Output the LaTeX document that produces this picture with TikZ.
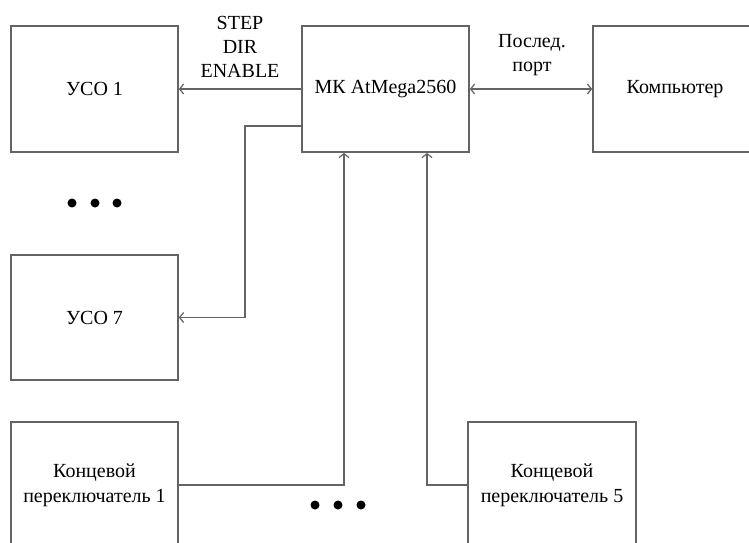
\documentclass[tikz,border=0pt]{standalone}
\usepackage{fontspec}
\setmainfont{Liberation Serif}
\usetikzlibrary{arrows.meta}
\definecolor{ln}{RGB}{100,100,100}
\tikzset{
  blk/.style={draw=ln, line width=1.7pt, rectangle, minimum width=167pt, minimum height=126pt, inner sep=0pt, align=center, font=\fontsize{20}{25}\selectfont},
  lbl/.style={inner sep=0pt, align=center, font=\fontsize{20}{24}\selectfont},
  arr/.style={draw=ln, line width=1.6pt, -{Straight Barb[length=4pt,width=10pt,line width=1.2pt]}},
  biarr/.style={draw=ln, line width=1.6pt, {Straight Barb[length=4pt,width=10pt,line width=1.2pt]}-{Straight Barb[length=4pt,width=10pt,line width=1.2pt]}},
  dotc/.style={fill=black, circle, minimum size=9pt, inner sep=0pt}
}
\begin{document}
\begin{tikzpicture}[x=1pt,y=-1pt]
\useasboundingbox (0,0) rectangle (749,542);
\clip (0,0) rectangle (749,542);
\fill[white] (0,0) rectangle (749,542);
\node[blk] (uso1) at (94.5,89) {УСО 1};
\node[blk] (mk) at (385.5,89) {МК AtMega2560};
\node[blk, minimum width=164pt] (pc) at (675,89) {Компьютер};
\node[blk, minimum height=125pt] (uso7) at (94.5,317.5) {УСО 7};
\node[blk] (kp1) at (94.5,485) {Концевой\\переключатель 1};
\node[blk, minimum width=168pt] (kp5) at (552,485) {Концевой\\переключатель 5};
\node[lbl] (sig) at (240,47) {STEP\\DIR\\ENABLE};
\node[lbl] (port) at (532,55) {Послед.\\порт};
\node[dotc] (d1) at (72,203) {};
\node[dotc] (d2) at (95,203) {};
\node[dotc] (d3) at (117,203) {};
\node[dotc] (d4) at (315,505) {};
\node[dotc] (d5) at (338,505) {};
\node[dotc] (d6) at (361,505) {};
\coordinate (c1) at (245,126);
\draw[arr] (mk.west) -- (uso1.east);
\draw[biarr] (mk.east) -- (pc.west);
\draw[arr] ([yshift=-37pt]mk.west) -- (c1) |- (uso7.east);
\draw[arr] (kp1.east) -| ([xshift=-41.5pt]mk.south);
\draw[arr] (kp5.west) -| ([xshift=41.5pt]mk.south);
\end{tikzpicture}
\end{document}
